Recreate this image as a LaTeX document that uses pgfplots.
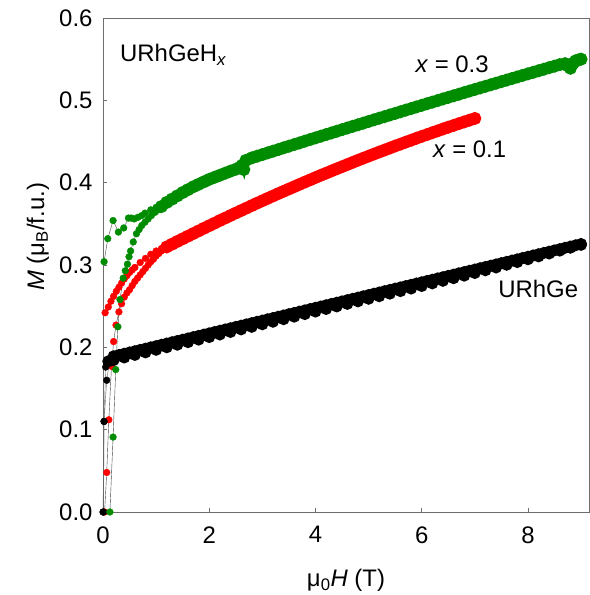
\documentclass[border=0pt]{standalone}
\usepackage{fontspec}
\setmainfont{Liberation Sans}
\usepackage{pgfplots}
\usepackage{pgfplotstable}
\pgfplotsset{compat=1.18}
\definecolor{mygreen}{RGB}{0,140,0}
\definecolor{myred}{RGB}{255,0,0}
\definecolor{axgray}{RGB}{110,110,110}
% ---- x = 0.1 (red), main branch ----
\pgfplotstableread{
x y
1.2 0.3220
1.3 0.3253
1.4 0.3286
1.5 0.3318
1.6 0.3350
1.7 0.3382
1.8 0.3414
1.9 0.3446
2.0 0.3477
2.1 0.3508
2.2 0.3540
2.3 0.3570
2.4 0.3601
2.5 0.3631
2.6 0.3661
2.7 0.3691
2.8 0.3721
2.9 0.3751
3.0 0.3780
3.1 0.3809
3.2 0.3838
3.3 0.3867
3.4 0.3895
3.5 0.3923
3.6 0.3951
3.7 0.3979
3.8 0.4007
3.9 0.4034
4.0 0.4062
4.1 0.4089
4.2 0.4115
4.3 0.4142
4.4 0.4168
4.5 0.4194
4.6 0.4220
4.7 0.4246
4.8 0.4272
4.9 0.4297
5.0 0.4322
5.1 0.4347
5.2 0.4372
5.3 0.4396
5.4 0.4420
5.5 0.4445
5.6 0.4468
5.7 0.4492
5.8 0.4515
5.9 0.4539
6.0 0.4562
6.1 0.4584
6.2 0.4607
6.3 0.4629
6.4 0.4652
6.5 0.4674
6.6 0.4695
6.7 0.4717
6.8 0.4738
6.9 0.4759
7.0 0.4780
}\redmain
% ---- URhGe (black), branch A ----
\pgfplotstableread{
x y
0.2 0.1891
0.3 0.1907
0.4 0.1922
0.5 0.1938
0.6 0.1953
0.7 0.1969
0.8 0.1984
0.9 0.2000
1.0 0.2015
1.1 0.2031
1.2 0.2046
1.3 0.2062
1.4 0.2077
1.5 0.2093
1.6 0.2108
1.7 0.2124
1.8 0.2139
1.9 0.2155
2.0 0.2170
2.1 0.2186
2.2 0.2201
2.3 0.2217
2.4 0.2232
2.5 0.2248
2.6 0.2263
2.7 0.2279
2.8 0.2294
2.9 0.2310
3.0 0.2325
3.1 0.2341
3.2 0.2356
3.3 0.2372
3.4 0.2387
3.5 0.2403
3.6 0.2418
3.7 0.2434
3.8 0.2449
3.9 0.2465
4.0 0.2480
4.1 0.2496
4.2 0.2511
4.3 0.2527
4.4 0.2542
4.5 0.2558
4.6 0.2573
4.7 0.2589
4.8 0.2604
4.9 0.2620
5.0 0.2635
5.1 0.2651
5.2 0.2666
5.3 0.2682
5.4 0.2697
5.5 0.2713
5.6 0.2728
5.7 0.2744
5.8 0.2759
5.9 0.2775
6.0 0.2790
6.1 0.2806
6.2 0.2821
6.3 0.2837
6.4 0.2852
6.5 0.2868
6.6 0.2883
6.7 0.2899
6.8 0.2914
6.9 0.2930
7.0 0.2945
7.1 0.2961
7.2 0.2976
7.3 0.2992
7.4 0.3007
7.5 0.3023
7.6 0.3038
7.7 0.3054
7.8 0.3069
7.9 0.3085
8.0 0.3100
8.1 0.3116
8.2 0.3131
8.3 0.3147
8.4 0.3162
8.5 0.3178
8.6 0.3193
8.7 0.3209
8.8 0.3224
8.9 0.3240
9.0 0.3255
}\blackA
% ---- URhGe (black), branch B ----
\pgfplotstableread{
x y
9.0 0.3245
8.8 0.3210
8.6 0.3175
8.4 0.3140
8.2 0.3105
8.0 0.3070
7.8 0.3036
7.6 0.3003
7.4 0.2970
7.2 0.2936
7.0 0.2903
6.8 0.2871
6.6 0.2840
6.4 0.2808
6.2 0.2777
6.0 0.2745
5.8 0.2714
5.6 0.2683
5.4 0.2652
5.2 0.2621
5.0 0.2590
4.8 0.2559
4.6 0.2528
4.4 0.2497
4.2 0.2466
4.0 0.2435
3.8 0.2404
3.6 0.2373
3.4 0.2342
3.2 0.2311
3.0 0.2280
2.8 0.2249
2.6 0.2218
2.4 0.2187
2.2 0.2156
2.0 0.2125
1.8 0.2094
1.6 0.2063
1.4 0.2032
1.2 0.2001
1.0 0.1970
0.8 0.1939
0.6 0.1908
0.4 0.1877
0.2 0.1846
0.1 0.1830
}\blackB
% ---- x = 0.3 (green), main branch ----
\pgfplotstableread{
x y
1.1 0.371
1.2 0.376
1.3 0.380
1.4 0.384
1.5 0.388
1.6 0.3915
1.7 0.395
1.8 0.398
1.9 0.401
2.0 0.404
2.1 0.4065
2.2 0.409
2.3 0.4115
2.4 0.414
2.5 0.4163
2.58 0.4185
2.62 0.421
2.65 0.416
2.69 0.427
2.8 0.4301
2.9 0.4321
3.0 0.4341
3.1 0.4362
3.2 0.4382
3.3 0.4402
3.4 0.4423
3.5 0.4443
3.6 0.4463
3.7 0.4483
3.8 0.4504
3.9 0.4524
4.0 0.4544
4.1 0.4564
4.2 0.4584
4.3 0.4604
4.4 0.4624
4.5 0.4644
4.6 0.4664
4.7 0.4684
4.8 0.4703
4.9 0.4723
5.0 0.4743
5.1 0.4763
5.2 0.4783
5.3 0.4802
5.4 0.4822
5.5 0.4841
5.6 0.4861
5.7 0.4881
5.8 0.4900
5.9 0.4920
6.0 0.4939
6.1 0.4959
6.2 0.4978
6.3 0.4997
6.4 0.5017
6.5 0.5036
6.6 0.5055
6.7 0.5074
6.8 0.5094
6.9 0.5113
7.0 0.5132
7.1 0.5151
7.2 0.5170
7.3 0.5189
7.4 0.5208
7.5 0.5227
7.6 0.5246
7.7 0.5265
7.8 0.5284
7.9 0.5303
8.0 0.5322
8.1 0.5340
8.2 0.5359
8.3 0.5378
8.4 0.5397
8.5 0.5415
8.6 0.5434
8.7 0.5445
8.75 0.542
8.8 0.539
8.85 0.545
8.9 0.5480
8.95 0.5490
9.0 0.5500
}\greenmain
\begin{document}
\begin{tikzpicture}[font=\fontsize{24}{28}\selectfont]
\begin{axis}[
  scale only axis, width=486bp, height=494bp,
  xmin=0, xmax=9.15, ymin=0, ymax=0.6,
  xtick={0,2,4,6,8}, ytick={0,0.1,0.2,0.3,0.4,0.5,0.6},
  tick pos=left, tick align=inside, major tick length=4bp,
  axis line style={axgray, line width=0.8pt},
  every tick/.style={axgray, line width=0.8pt},
  /pgf/number format/assume math mode=true,
  yticklabel style={/pgf/number format/fixed, /pgf/number format/fixed zerofill, /pgf/number format/precision=1, xshift=-7bp},
  xticklabel style={yshift=-11bp},
  clip=false,
  xlabel={μ\textsubscript{0}\textit{H} (T)},
  ylabel={\textit{M} (μ\textsubscript{B}/f.u.)},
  xlabel style={at={(axis description cs:0.5,-0.139)}, anchor=center},
  ylabel style={at={(axis description cs:-0.134,0.557)}, anchor=center},
  mark size=3.4pt,
]
\coordinate (o) at (axis cs:0,0);
% ---- x = 0.1 (red) ----
\addplot[black!75, line width=0.4pt, mark=*, mark options={fill=myred, draw=myred}] coordinates {
(0.03,0.0) (0.07,0.048) (0.11,0.112) (0.16,0.177) (0.2,0.207) (0.245,0.227) (0.3,0.243) (0.35,0.253) (0.4,0.261) (0.45,0.266) (0.5,0.270) (0.55,0.275) (0.6,0.280) (0.65,0.284) (0.7,0.288) (0.75,0.292) (0.8,0.296) (0.85,0.300) (0.9,0.304) (0.95,0.307) (1.0,0.311) (1.05,0.314) (1.1,0.317) (1.15,0.320) (1.2,0.322)
};
\addplot[black!75, line width=0.4pt, mark=*, mark options={fill=myred, draw=myred}] coordinates {
(1.2,0.322) (1.1,0.320) (1.0,0.317) (0.9,0.313) (0.8,0.308) (0.7,0.303) (0.6,0.297) (0.55,0.294) (0.5,0.291) (0.45,0.287) (0.4,0.283) (0.35,0.278) (0.3,0.273) (0.25,0.268) (0.2,0.262) (0.15,0.256) (0.1,0.249) (0.04,0.242)
};
\addplot[myred, line width=6pt, mark=*, mark options={fill=myred, draw=myred}] table {\redmain};
% ---- URhGe (black) ----
\addplot[black!60, line width=0.4pt, mark=*, mark options={fill=black, draw=black}] coordinates {
(0.0,0.0) (0.02,0.11) (0.07,0.16) (0.13,0.186) (0.2,0.1891)
};
\addplot[black!60, line width=0.4pt, mark=*, mark options={fill=black, draw=black}] coordinates {
(0.1,0.1830) (0.05,0.176) (0.02,0.11) (0.01,0.0)
};
\addplot[black, line width=5pt, mark=*, mark options={fill=black, draw=black}] table {\blackA};
\addplot[black, line width=5pt, mark=*, mark options={fill=black, draw=black}] table {\blackB};
\addplot[white!70!black, line width=0.4pt, dashed] table {\blackA};
% ---- x = 0.3 (green) ----
\addplot[black!75, line width=0.4pt, mark=*, mark options={fill=mygreen, draw=mygreen}] coordinates {
(0.13,0.0) (0.19,0.091) (0.24,0.173) (0.28,0.225) (0.32,0.258) (0.38,0.284) (0.42,0.293) (0.46,0.301) (0.49,0.310) (0.52,0.317)
(0.57,0.328) (0.63,0.338) (0.68,0.343) (0.73,0.348) (0.79,0.352) (0.85,0.356) (0.91,0.360) (0.98,0.364) (1.04,0.367) (1.1,0.371)
};
\addplot[black!75, line width=0.4pt, mark=*, mark options={fill=mygreen, draw=mygreen}] coordinates {
(1.1,0.371) (1.0,0.370) (0.9,0.367) (0.79,0.363) (0.73,0.360) (0.66,0.358) (0.59,0.356) (0.53,0.357) (0.48,0.357) (0.39,0.345) (0.29,0.340) (0.19,0.354) (0.09,0.332) (0.02,0.304)
};
\addplot[mygreen, line width=6pt, mark=*, mark options={fill=mygreen, draw=mygreen}] table {\greenmain};
% ---- annotations ----
\node[anchor=base west, inner sep=0pt] at (axis cs:0.32,0.547) {URhGeH\textsubscript{\textit{x}}};
\node[anchor=base west, inner sep=0pt] at (axis cs:5.88,0.534) {\textit{x} = 0.3};
\node[anchor=base west, inner sep=0pt] at (axis cs:6.21,0.430) {\textit{x} = 0.1};
\node[anchor=base west, inner sep=0pt] at (axis cs:7.44,0.260) {URhGe};
\end{axis}
\pgfresetboundingbox
\path (o) ++(-103bp,-83bp) rectangle ++(590bp,595bp);
\end{tikzpicture}
\end{document}
